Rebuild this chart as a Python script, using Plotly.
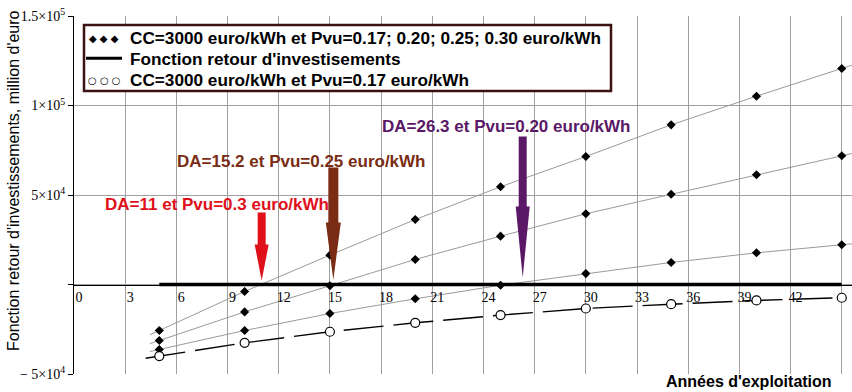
import plotly.graph_objects as go

# Années d'exploitation et fonction retour d'investissements (euro)
annees = [5, 10, 15, 20, 25, 30, 35, 40, 45]
pvu_030 = [-25700, -3900, 16400, 36300, 54600, 71500, 89200, 105200, 120700]
pvu_025 = [-31300, -15300, -700, 14000, 27000, 39500, 50400, 61300, 71900]
pvu_020 = [-36300, -25700, -16200, -8000, -400, 6100, 12300, 17700, 22200]
pvu_017 = [-40000, -32600, -26400, -21400, -17100, -13400, -11000, -8900, -7400]

# Durées d'amortissement annotées
da_labels = ["DA=11 et Pvu=0.3 euro/kWh", "DA=15.2 et Pvu=0.25 euro/kWh", "DA=26.3 et Pvu=0.20 euro/kWh"]
da_values = [11, 15.2, 26.3]

x_ticks = list(range(0, 46, 3))
y_ticks = [-50000, 0, 50000, 100000, 150000]
y_ticktext = ["\u2212 5\u00d710<sup>4</sup>", " ", "5\u00d710<sup>4</sup>", "1\u00d710<sup>5</sup>", "1.5\u00d710<sup>5</sup>"]

X_MAX = 45.6
W, H = 852, 392
ML, MR, MT, MB = 74, 0, 16, 18
PW, PH = W - ML - MR, H - MT - MB


def px(x):
    return (x - ML) / PW


def py(y):
    return (H - MB - y) / PH


def extend(xs, ys, lo, hi):
    """Prolonge la courbe linéairement aux deux extrémités."""
    s0 = (ys[1] - ys[0]) / (xs[1] - xs[0])
    s1 = (ys[-1] - ys[-2]) / (xs[-1] - xs[-2])
    return ([lo] + xs + [hi],
            [ys[0] + s0 * (lo - xs[0])] + ys + [ys[-1] + s1 * (hi - xs[-1])])


fig = go.Figure()

# Fonctions pour Pvu = 0.30 ; 0.25 ; 0.20 : courbes grises + losanges
for serie in (pvu_030, pvu_025, pvu_020):
    ex, ey = extend(annees, serie, 4.45, X_MAX)
    fig.add_trace(go.Scatter(x=ex, y=ey, mode="lines",
                             line=dict(color="#9a9a9a", width=1), showlegend=False, hoverinfo="skip"))
    fig.add_trace(go.Scatter(x=annees, y=serie, mode="markers",
                             marker=dict(symbol="diamond", size=7, color="black"), showlegend=False))

# Pvu = 0.17 : tirets longs + cercles
ex, ey = extend(annees, pvu_017, 4.2, 45)
fig.add_trace(go.Scatter(x=ex, y=ey, mode="lines",
                         line=dict(color="black", width=1.4, dash="40px,10px"), showlegend=False))
fig.add_trace(go.Scatter(x=annees, y=pvu_017, mode="markers",
                         marker=dict(symbol="circle", size=9, color="white",
                                     line=dict(color="black", width=1.2)), showlegend=False))

# Fonction retour d'investissements (seuil zéro)
fig.add_trace(go.Scatter(x=[annees[0], annees[-1]], y=[0, 0], mode="lines",
                         line=dict(color="black", width=3.5), showlegend=False))

# Flèches des durées d'amortissement
arrow_colors = ["#e0101a", "#7a2c14", "#5a1866"]
arrow_geom = [  # (pointe, début tête, haut du fût, demi-largeur fût, demi-largeur tête) en px
    (4, 40, 72, 4, 7),
    (4.5, 62, 117, 5, 7.5),
    (7, 78, 148, 4, 7),
]
for da, col, (tip, hs, top, sw, hw) in zip(da_values, arrow_colors, arrow_geom):
    path = (f"M {-sw},{top} L {sw},{top} L {sw},{hs} L {hw},{hs} "
            f"L 0,{tip} L {-hw},{hs} L {-sw},{hs} Z")
    fig.add_shape(type="path", xref="x", yref="y", xsizemode="pixel", ysizemode="pixel",
                  xanchor=da, yanchor=0, path=path, fillcolor=col, line=dict(width=0), layer="above")

text_pos = [(217, 204), (301, 161.7), (506, 126.7)]
for lab, col, (tx, ty) in zip(da_labels, arrow_colors, text_pos):
    fig.add_annotation(x=px(tx), y=py(ty), xref="paper", yref="paper", text=f"<b>{lab}</b>",
                       showarrow=False, xanchor="center", yanchor="middle",
                       font=dict(family="Liberation Sans, Arial", size=17, color=col))

# Légende encadrée
fig.add_shape(type="rect", xref="paper", yref="paper", x0=px(84), x1=px(611), y0=py(91), y1=py(25),
              line=dict(color="#3a1212", width=2.5), fillcolor="white", layer="above")
legend_rows = [
    ("\u25c6 \u25c6 \u25c6", "CC=3000 euro/kWh et Pvu=0.17; 0.20; 0.25; 0.30 euro/kWh", 38.3),
    (None, "Fonction retour d'investisements", 59.3),
    ("\u25cb \u25cb \u25cb", "CC=3000 euro/kWh et Pvu=0.17 euro/kWh", 80),
]
for sym, lab, ry in legend_rows:
    if sym:
        fig.add_annotation(x=px(104), y=py(ry), xref="paper", yref="paper", text=sym,
                           showarrow=False, xanchor="center", yanchor="middle",
                           font=dict(family="DejaVu Sans", size=10, color="black"))
    else:
        fig.add_shape(type="line", xref="paper", yref="paper", x0=px(86), x1=px(122),
                      y0=py(ry - 1), y1=py(ry - 1), line=dict(color="black", width=3), layer="above")
    fig.add_annotation(x=px(128), y=py(ry), xref="paper", yref="paper", text=f"<b>{lab}</b>",
                       showarrow=False, xanchor="left", yanchor="middle",
                       font=dict(family="Liberation Sans, Arial", size=17.2, color="black"))

# Titres des axes
fig.add_annotation(x=px(13), y=py(181), xref="paper", yref="paper",
                   text="Fonction retour d'investissements, million d'euro",
                   textangle=-90, showarrow=False, xanchor="center", yanchor="middle",
                   font=dict(family="Liberation Sans, Arial", size=16, color="black"))
fig.add_annotation(x=px(749), y=py(381.5), xref="paper", yref="paper",
                   text="<b>Années d'exploitation</b>", showarrow=False,
                   xanchor="center", yanchor="middle",
                   font=dict(family="Liberation Sans, Arial", size=16, color="black"))

fig.update_layout(
    width=W, height=H,
    margin=dict(l=ML, r=MR, t=MT, b=MB),
    paper_bgcolor="white", plot_bgcolor="white",
    showlegend=False,
    xaxis=dict(range=[0, X_MAX], tickvals=x_ticks, ticktext=[str(v) for v in x_ticks],
               showgrid=True, gridcolor="#a0a0a0", gridwidth=1, zeroline=False,
               showline=True, linecolor="black", linewidth=1.2,
               anchor="free", position=0.25, ticks="", ticklabelshift=5,
               tickfont=dict(family="Liberation Serif, Times New Roman", size=14, color="black")),
    yaxis=dict(range=[-50000, 150000], tickvals=y_ticks, ticktext=y_ticktext,
               showgrid=True, gridcolor="#a0a0a0", gridwidth=1, zeroline=False,
               showline=True, linecolor="black", linewidth=1.2,
               ticks="outside", ticklen=5, tickcolor="black",
               tickfont=dict(family="Liberation Serif, Times New Roman", size=14, color="black")),
)

fig.write_html("out.html")
